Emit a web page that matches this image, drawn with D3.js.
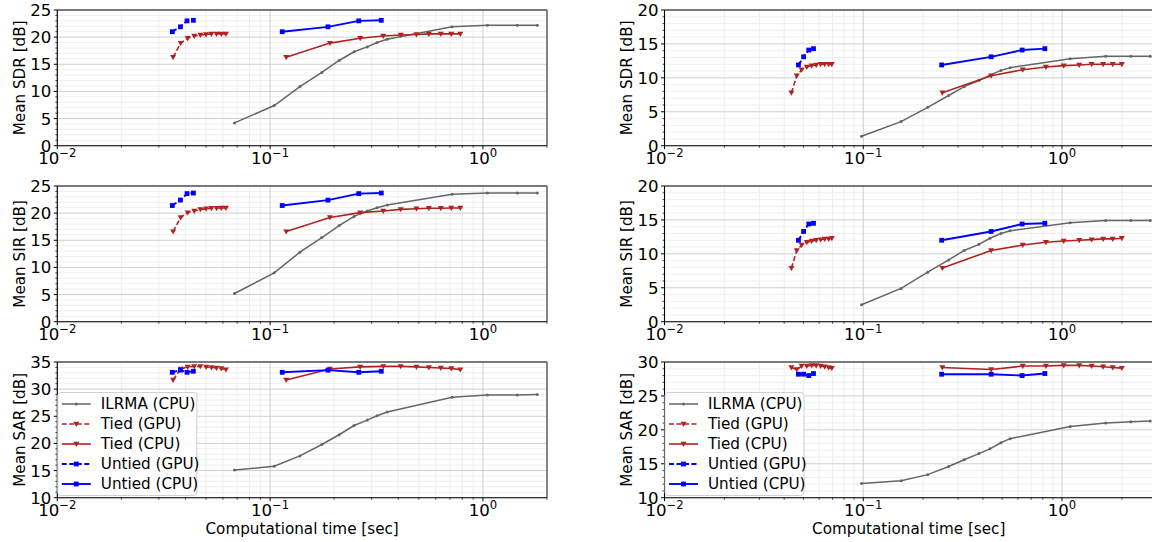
<!DOCTYPE html>
<html>
<head>
<meta charset="utf-8">
<script src="https://cdn.jsdelivr.net/npm/d3@7"></script>
<style>
  body { margin: 0; background: #fff; }
  text { font-family: "DejaVu Sans", sans-serif; }
</style>
</head>
<body>
<svg id="chart" width="1152" height="542"></svg>
<script>
// ---- data ----
// left column
var leftIlrmaTime = [0.068, 0.1045, 0.138, 0.175, 0.211, 0.248, 0.286, 0.318, 0.355, 0.716, 1.05, 1.45, 1.80];
var leftIlrmaSDR = [4.2, 7.4, 10.9, 13.5, 15.7, 17.3, 18.2, 19.0, 19.6, 21.9, 22.2, 22.2, 22.2];
var leftIlrmaSIR = [5.2, 9.0, 12.8, 15.5, 17.7, 19.4, 20.4, 21.0, 21.5, 23.5, 23.7, 23.7, 23.7];
var leftIlrmaSAR = [15.1, 15.8, 17.7, 19.8, 21.6, 23.3, 24.3, 25.1, 25.8, 28.5, 28.9, 28.9, 29.0];
var leftTiedGpuTime = [0.035, 0.038, 0.041, 0.044, 0.047, 0.050, 0.053, 0.056, 0.059, 0.062];
var leftTiedCpuTime = [0.119, 0.191, 0.265, 0.340, 0.411, 0.487, 0.557, 0.634, 0.710, 0.783];
var leftTiedSDR = [16.3, 18.9, 19.8, 20.2, 20.4, 20.5, 20.6, 20.6, 20.6, 20.6];
var leftTiedSIR = [16.6, 19.2, 20.1, 20.4, 20.7, 20.8, 20.9, 20.9, 20.95, 20.95];
var leftTiedSAR = [31.7, 33.7, 34.1, 34.2, 34.2, 34.1, 34.0, 33.9, 33.8, 33.6];
var leftUntiedGpuTime = [0.0347, 0.0379, 0.0407, 0.0436];
var leftUntiedCpuTime = [0.114, 0.187, 0.261, 0.333];
var leftUntiedSDR = [21.0, 21.9, 23.0, 23.1];
var leftUntiedSIR = [21.4, 22.4, 23.6, 23.7];
var leftUntiedSAR = [33.1, 33.5, 33.1, 33.3];

// right column
var rightIlrmaTime = [0.098, 0.155, 0.211, 0.269, 0.322, 0.382, 0.434, 0.493, 0.548, 1.10, 1.66, 2.22, 2.78];
var rightIlrmaSDR = [1.4, 3.55, 5.65, 7.4, 8.7, 9.6, 10.4, 11.1, 11.5, 12.8, 13.2, 13.2, 13.2];
var rightIlrmaSIR = [2.5, 4.9, 7.3, 9.1, 10.5, 11.4, 12.3, 13.0, 13.4, 14.6, 14.9, 14.9, 14.9];
var rightIlrmaSAR = [12.1, 12.5, 13.4, 14.6, 15.6, 16.5, 17.2, 18.1, 18.7, 20.5, 21.0, 21.2, 21.3];
var rightTiedGpuTime = [0.0435, 0.0463, 0.049, 0.052, 0.055, 0.058, 0.061, 0.064, 0.067, 0.0695];
var rightTiedCpuTime = [0.25, 0.44, 0.635, 0.83, 1.02, 1.22, 1.41, 1.61, 1.80, 2.0];
var rightTiedSDR = [7.8, 10.3, 11.2, 11.6, 11.8, 11.9, 12.0, 12.0, 12.0, 12.0];
var rightTiedSIR = [7.9, 10.5, 11.3, 11.7, 11.9, 12.0, 12.1, 12.2, 12.2, 12.3];
var rightTiedSAR = [29.2, 28.9, 29.4, 29.4, 29.5, 29.5, 29.4, 29.3, 29.2, 29.1];
var rightUntiedGpuTime = [0.0472, 0.0501, 0.0532, 0.0562];
var rightUntiedCpuTime = [0.248, 0.44, 0.63, 0.82];
var rightUntiedSDR = [11.9, 13.1, 14.1, 14.3];
var rightUntiedSIR = [12.0, 13.3, 14.4, 14.5];
var rightUntiedSAR = [28.2, 28.2, 28.0, 28.3];

var metricNames = ['SDR', 'SIR', 'SAR'];
var leftYLims = [[0, 25], [0, 25], [10, 35]];
var rightYLims = [[0, 20], [0, 20], [10, 30]];
var legendLabels = ['ILRMA (CPU)', 'Tied (GPU)', 'Tied (CPU)', 'Untied (GPU)', 'Untied (CPU)'];
var xLabel = 'Computational time [sec]';

// ---- layout ----
var svg = d3.select('#chart');
var rowTop = [10, 186, 362];
var rowH = 135.7;
var tickFont = 16.6, labelFont = 15.2;

var columns = [
  { left: 57.3, right: 547, xMax: 2.0,
    ilrmaTime: leftIlrmaTime, tiedGpu: leftTiedGpuTime, tiedCpu: leftTiedCpuTime,
    untiedGpu: leftUntiedGpuTime, untiedCpu: leftUntiedCpuTime,
    ilrma: [leftIlrmaSDR, leftIlrmaSIR, leftIlrmaSAR],
    tied: [leftTiedSDR, leftTiedSIR, leftTiedSAR],
    untied: [leftUntiedSDR, leftUntiedSIR, leftUntiedSAR],
    ylims: leftYLims },
  { left: 664.5, right: 1153, xMax: 2.87,
    ilrmaTime: rightIlrmaTime, tiedGpu: rightTiedGpuTime, tiedCpu: rightTiedCpuTime,
    untiedGpu: rightUntiedGpuTime, untiedCpu: rightUntiedCpuTime,
    ilrma: [rightIlrmaSDR, rightIlrmaSIR, rightIlrmaSAR],
    tied: [rightTiedSDR, rightTiedSIR, rightTiedSAR],
    untied: [rightUntiedSDR, rightUntiedSIR, rightUntiedSAR],
    ylims: rightYLims }
];

var styles = [
  { color: '#666666', dash: null, marker: 'dot', width: 1.5 },
  { color: '#b22222', dash: '5,2.5', marker: 'tri', width: 1.6 },
  { color: '#b22222', dash: null, marker: 'tri', width: 1.6 },
  { color: '#0000ff', dash: '5,2.5', marker: 'sq', width: 1.9 },
  { color: '#0000ff', dash: null, marker: 'sq', width: 1.9 }
];

function drawMarker(g, kind, color, x, y) {
  if (kind === 'dot') {
    g.append('circle').attr('cx', x).attr('cy', y).attr('r', 1.5).attr('fill', color);
  } else if (kind === 'tri') {
    g.append('path').attr('d', 'M' + (x - 3) + ',' + (y - 2.2) + 'L' + (x + 3) + ',' + (y - 2.2) + 'L' + x + ',' + (y + 3) + 'Z')
      .attr('fill', color);
  } else {
    g.append('rect').attr('x', x - 2.4).attr('y', y - 2.4).attr('width', 4.8).attr('height', 4.8).attr('fill', color);
  }
}

columns.forEach(function(col, ci) {
  var x = d3.scaleLog().domain([0.01, col.xMax]).range([col.left, col.right]);
  var xMajor = [0.01, 0.1, 1];
  var xMinor = [];
  [0.01, 0.1, 1].forEach(function(d) {
    for (var k = 2; k <= 9; k++) if (k * d <= col.xMax) xMinor.push(k * d);
  });

  metricNames.forEach(function(name, ri) {
    var top = rowTop[ri], bottom = top + rowH;
    var lim = col.ylims[ri];
    var y = d3.scaleLinear().domain(lim).range([bottom, top]);
    var yMajor = d3.range(lim[0], lim[1] + 0.1, 5);
    var yMinor = d3.range(lim[0], lim[1] + 0.1, 1).filter(function(v) { return (v - lim[0]) % 5 !== 0; });

    var g = svg.append('g');
    var clipId = 'clip' + ci + ri;
    svg.append('clipPath').attr('id', clipId).append('rect')
      .attr('x', col.left).attr('y', top - 4).attr('width', col.right - col.left).attr('height', rowH + 8);

    // grid
    var grid = g.append('g');
    xMinor.forEach(function(v) {
      grid.append('line').attr('x1', x(v)).attr('x2', x(v)).attr('y1', top).attr('y2', bottom)
        .attr('stroke', '#ebebeb').attr('stroke-width', 0.8);
    });
    yMinor.forEach(function(v) {
      grid.append('line').attr('x1', col.left).attr('x2', col.right).attr('y1', y(v)).attr('y2', y(v))
        .attr('stroke', '#ebebeb').attr('stroke-width', 0.8);
    });
    xMajor.forEach(function(v) {
      grid.append('line').attr('x1', x(v)).attr('x2', x(v)).attr('y1', top).attr('y2', bottom)
        .attr('stroke', '#cfcfcf').attr('stroke-width', 1);
    });
    yMajor.forEach(function(v) {
      grid.append('line').attr('x1', col.left).attr('x2', col.right).attr('y1', y(v)).attr('y2', y(v))
        .attr('stroke', '#cfcfcf').attr('stroke-width', 1);
    });

    // series
    var series = [
      [col.ilrmaTime, col.ilrma[ri]],
      [col.tiedGpu, col.tied[ri]],
      [col.tiedCpu, col.tied[ri]],
      [col.untiedGpu, col.untied[ri]],
      [col.untiedCpu, col.untied[ri]]
    ];
    var plot = g.append('g').attr('clip-path', 'url(#' + clipId + ')');
    var line = d3.line().x(function(d) { return x(d[0]); }).y(function(d) { return y(d[1]); });
    series.forEach(function(s, si) {
      var st = styles[si];
      var pts = d3.zip(s[0], s[1]);
      plot.append('path').attr('d', line(pts)).attr('fill', 'none')
        .attr('stroke', st.color).attr('stroke-width', st.width)
        .attr('stroke-dasharray', st.dash);
      pts.forEach(function(p) { drawMarker(plot, st.marker, st.color, x(p[0]), y(p[1])); });
    });

    // spines
    g.append('line').attr('x1', col.left).attr('x2', col.right).attr('y1', top).attr('y2', top)
      .attr('stroke', '#555').attr('stroke-width', 1.4);
    g.append('line').attr('x1', col.right).attr('x2', col.right).attr('y1', top).attr('y2', bottom)
      .attr('stroke', '#555').attr('stroke-width', 1.4);
    g.append('line').attr('x1', col.left).attr('x2', col.right).attr('y1', bottom).attr('y2', bottom)
      .attr('stroke', '#000').attr('stroke-width', 1.1);
    g.append('line').attr('x1', col.left).attr('x2', col.left).attr('y1', top).attr('y2', bottom)
      .attr('stroke', '#000').attr('stroke-width', 1.1);

    // ticks
    xMajor.forEach(function(v) {
      g.append('line').attr('x1', x(v)).attr('x2', x(v)).attr('y1', bottom).attr('y2', bottom + 3.5)
        .attr('stroke', '#000').attr('stroke-width', 1);
      var t = g.append('text').attr('x', x(v)).attr('y', bottom + 18.5)
        .attr('text-anchor', 'middle').attr('font-size', tickFont).attr('fill', '#000');
      t.append('tspan').text('10');
      t.append('tspan').attr('dy', -7).attr('font-size', tickFont * 0.7)
        .text('\u2212' + Math.abs(Math.round(Math.log10(v))).toString()).filter(function() { return v < 1; });
      if (v >= 1) t.select('tspan:nth-child(2)').text('0');
    });
    xMinor.forEach(function(v) {
      g.append('line').attr('x1', x(v)).attr('x2', x(v)).attr('y1', bottom).attr('y2', bottom + 2)
        .attr('stroke', '#000').attr('stroke-width', 0.7);
    });
    yMajor.forEach(function(v) {
      g.append('line').attr('x1', col.left - 3.5).attr('x2', col.left).attr('y1', y(v)).attr('y2', y(v))
        .attr('stroke', '#000').attr('stroke-width', 1);
      g.append('text').attr('x', col.left - 6).attr('y', y(v)).attr('dy', '0.36em')
        .attr('text-anchor', 'end').attr('font-size', tickFont).attr('fill', '#000').text(v);
    });
    yMinor.forEach(function(v) {
      g.append('line').attr('x1', col.left - 2).attr('x2', col.left).attr('y1', y(v)).attr('y2', y(v))
        .attr('stroke', '#000').attr('stroke-width', 0.7);
    });

    // y label
    var ly = (top + bottom) / 2;
    g.append('text').attr('transform', 'translate(' + (col.left - 37.5) + ',' + ly + ') rotate(-90)')
      .attr('text-anchor', 'middle').attr('dy', '0.36em').attr('font-size', labelFont).attr('fill', '#000')
      .text('Mean ' + name + ' [dB]');

    if (ri === 2) {
      var cx = (col.left + Math.min(col.right, 1152)) / 2;
      g.append('text').attr('x', (col.left + col.right) / 2).attr('y', bottom + 36)
        .attr('text-anchor', 'middle').attr('font-size', labelFont).attr('fill', '#000').text(xLabel);

      // legend
      var lg = g.append('g');
      var bx = col.left + 0.5, by = top + 30.5, bw = 139, bh = 103;
      lg.append('rect').attr('x', bx).attr('y', by).attr('width', bw).attr('height', bh)
        .attr('rx', 3).attr('fill', '#fff').attr('fill-opacity', 0.85)
        .attr('stroke', '#d0d0d0').attr('stroke-width', 1);
      legendLabels.forEach(function(lab, li) {
        var st = styles[li];
        var ey = by + 11.5 + li * 20;
        lg.append('line').attr('x1', bx + 4).attr('x2', bx + 33).attr('y1', ey).attr('y2', ey)
          .attr('stroke', st.color).attr('stroke-width', st.width).attr('stroke-dasharray', st.dash);
        drawMarker(lg, st.marker, st.color, bx + 18.5, ey);
        lg.append('text').attr('x', bx + 43).attr('y', ey).attr('dy', '0.36em')
          .attr('font-size', labelFont).attr('fill', '#000').text(lab);
      });
    }
  });
});
</script>
</body>
</html>
